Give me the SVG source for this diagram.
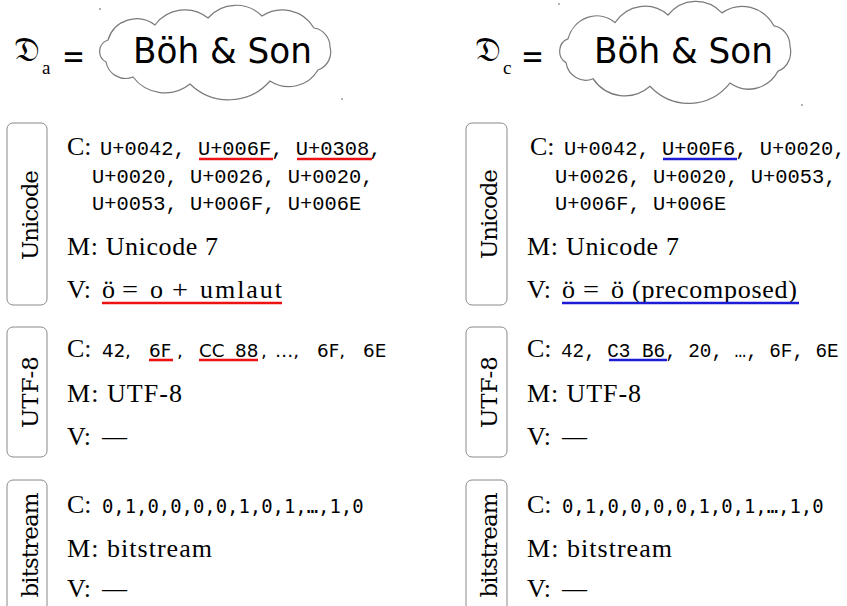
<svg xmlns="http://www.w3.org/2000/svg" width="847" height="606" viewBox="0 0 847 606">
  <style>
    .serif { font-family: "Liberation Serif", "DejaVu Serif", serif; font-size: 26px; fill: #000; }
    .frak { font-family: "DejaVu Serif", "DejaVu Sans", "Noto Sans", serif; font-size: 35px; fill: #000; }
    .sub { font-family: "Liberation Serif", serif; font-size: 19px; fill: #000; }
    .eq { font-family: "DejaVu Sans", sans-serif; font-size: 34px; fill: #000; }
    .hand { font-family: "DejaVu Sans", sans-serif; font-size: 36px; fill: #000; }
    .mono { font-family: "Liberation Mono", monospace; font-size: 20.4px; fill: #000; }
    .mono2 { font-family: "Liberation Mono", monospace; font-size: 19.3px; fill: #000; }
    .bits { font-family: "DejaVu Sans Mono", monospace; font-size: 18.9px; fill: #000; }
    .hex { font-family: "DejaVu Sans", sans-serif; font-size: 18.3px; fill: #000; }
    .label { font-family: "DejaVu Serif", "Liberation Serif", serif; font-size: 23px; fill: #000; text-anchor: middle; }
    .box { fill: #fff; stroke: #8a8a8a; stroke-width: 1; }
    .cloud { fill: #fff; stroke: #7a7a7a; stroke-width: 1.2; }
    .red { stroke: #ee1111; stroke-width: 2.6; }
    .blue { stroke: #1c1cd6; stroke-width: 2.6; }
    .dot { fill: #555; }
  </style>
  <defs>
    <path id="cloud-shape" d="M106,62 A12,12 0 0 1 108,40 A30,30 0 0 1 155,25 A37,37 0 0 1 208,18 A37,37 0 0 1 262,16 A37,37 0 0 1 314,28 A19,19 0 0 1 330,47 A19,19 0 0 1 318,70 A34,34 0 0 1 270,81 A55,55 0 0 1 190,84 A40,40 0 0 1 133,77 A20,20 0 0 1 106,62 Z"/>
  </defs>

  <!-- header, left: D_a = cloud -->
  <g id="title-a">
    <text class="frak" x="14" y="61">𝔇</text>
    <text class="sub" x="42" y="74">a</text>
    <text class="eq" x="62" y="68" textLength="23" lengthAdjust="spacingAndGlyphs">=</text>
    <use href="#cloud-shape" class="cloud"/>
    <text class="hand" x="133" y="63" textLength="179" lengthAdjust="spacingAndGlyphs">Böh &amp; Son</text>
    <circle class="dot" cx="100" cy="9" r="0.8"/>
    <circle class="dot" cx="342" cy="99" r="0.8"/>
  </g>

  <!-- header, right: D_c = cloud -->
  <g id="title-c">
    <text class="frak" x="475" y="61">𝔇</text>
    <text class="sub" x="503" y="74">c</text>
    <text class="eq" x="521" y="68" textLength="23" lengthAdjust="spacingAndGlyphs">=</text>
    <use href="#cloud-shape" class="cloud" transform="translate(680,55) scale(1,1.08) translate(-220,-55)"/>
    <text class="hand" x="594" y="63" textLength="179" lengthAdjust="spacingAndGlyphs">Böh &amp; Son</text>
    <circle class="dot" cx="559" cy="4" r="0.8"/>
    <circle class="dot" cx="802" cy="105" r="0.8"/>
  </g>

  <!-- left column -->
  <g id="unicode-a">
    <rect class="box" x="7" y="123" width="40" height="182" rx="6"/>
    <g transform="translate(38,215) rotate(-90)"><text class="label" x="0" y="0" textLength="90">Unicode</text></g>
    <text class="serif" x="67" y="155">C:</text>
    <text class="mono" x="100" y="155">U+0042, U+006F, U+0308,</text>
    <text class="mono" x="92" y="183">U+0020, U+0026, U+0020,</text>
    <text class="mono" x="92" y="210">U+0053, U+006F, U+006E</text>
    <text class="serif" x="67" y="255" textLength="151">M: Unicode 7</text>
    <text class="serif" x="67" y="298">V:</text>
    <text class="serif" x="102" y="298">ö</text>
    <text class="serif" x="122" y="298" textLength="16" lengthAdjust="spacingAndGlyphs">=</text>
    <text class="serif" x="150" y="298">o</text>
    <text class="serif" x="172" y="298" textLength="16" lengthAdjust="spacingAndGlyphs">+</text>
    <text class="serif" x="200" y="298" textLength="82">umlaut</text>
  </g>

  <g id="utf8-a">
    <rect class="box" x="7" y="327" width="40" height="130" rx="6"/>
    <g transform="translate(38,392) rotate(-90)"><text class="label" x="0" y="0" textLength="72">UTF-8</text></g>
    <text class="serif" x="67" y="357">C:</text>
    <text class="hex" x="102" y="357">42</text>
    <text class="hex" x="125" y="357">,</text>
    <text class="hex" x="149" y="357">6F</text>
    <text class="hex" x="177" y="357">,</text>
    <text class="hex" x="199" y="357">CC</text>
    <text class="hex" x="235" y="357">88</text>
    <text class="hex" x="261" y="357">,</text>
    <text class="hex" x="275" y="357">…,</text>
    <text class="hex" x="317" y="357">6F,</text>
    <text class="hex" x="363" y="357">6E</text>
    <text class="serif" x="67" y="402" textLength="115">M: UTF-8</text>
    <text class="serif" x="67" y="445">V:</text>
    <text class="serif" x="102" y="445" textLength="25" lengthAdjust="spacingAndGlyphs">—</text>
  </g>

  <g id="bitstream-a">
    <rect class="box" x="7" y="480" width="40" height="140" rx="6"/>
    <g transform="translate(38,545) rotate(-90)"><text class="label" x="0" y="0" textLength="105">bitstream</text></g>
    <text class="serif" x="67" y="513">C:</text>
    <text class="bits" x="102" y="513">0,1,0,0,0,0,1,0,1,…,1,0</text>
    <text class="serif" x="67" y="557" textLength="145">M: bitstream</text>
    <text class="serif" x="67" y="597">V:</text>
    <text class="serif" x="102" y="597" textLength="25" lengthAdjust="spacingAndGlyphs">—</text>
  </g>

  <!-- right column -->
  <g id="unicode-c">
    <rect class="box" x="466" y="123" width="41" height="182" rx="6"/>
    <g transform="translate(497,214) rotate(-90)"><text class="label" x="0" y="0" textLength="90">Unicode</text></g>
    <text class="serif" x="530" y="155">C:</text>
    <text class="mono" x="564" y="155">U+0042, U+00F6, U+0020,</text>
    <text class="mono" x="555" y="183">U+0026, U+0020, U+0053,</text>
    <text class="mono" x="555" y="210">U+006F, U+006E</text>
    <text class="serif" x="527" y="255" textLength="152">M: Unicode 7</text>
    <text class="serif" x="527" y="298">V:</text>
    <text class="serif" x="562" y="298">ö</text>
    <text class="serif" x="583" y="298" textLength="16" lengthAdjust="spacingAndGlyphs">=</text>
    <text class="serif" x="611" y="298">ö</text>
    <text class="serif" x="632" y="298" textLength="165">(precomposed)</text>
  </g>

  <g id="utf8-c">
    <rect class="box" x="466" y="327" width="41" height="130" rx="6"/>
    <g transform="translate(497,392) rotate(-90)"><text class="label" x="0" y="0" textLength="72">UTF-8</text></g>
    <text class="serif" x="527" y="357">C:</text>
    <text class="mono2" x="561" y="357">42, C3 B6, 20, …, 6F, 6E</text>
    <text class="serif" x="527" y="402" textLength="114">M: UTF-8</text>
    <text class="serif" x="527" y="445">V:</text>
    <text class="serif" x="562" y="445" textLength="25" lengthAdjust="spacingAndGlyphs">—</text>
  </g>

  <g id="bitstream-c">
    <rect class="box" x="466" y="480" width="41" height="140" rx="6"/>
    <g transform="translate(497,545) rotate(-90)"><text class="label" x="0" y="0" textLength="105">bitstream</text></g>
    <text class="serif" x="527" y="513">C:</text>
    <text class="bits" x="562" y="513">0,1,0,0,0,0,1,0,1,…,1,0</text>
    <text class="serif" x="527" y="557" textLength="145">M: bitstream</text>
    <text class="serif" x="527" y="597">V:</text>
    <text class="serif" x="562" y="597" textLength="25" lengthAdjust="spacingAndGlyphs">—</text>
  </g>

  <!-- highlight underlines -->
  <g id="connectors">
    <line class="red" x1="199" y1="159" x2="273" y2="159"/>
    <line class="red" x1="297" y1="159" x2="372" y2="159"/>
    <line class="red" x1="102" y1="303" x2="282" y2="303"/>
    <line class="red" x1="149" y1="360" x2="173" y2="360"/>
    <line class="red" x1="199" y1="360" x2="258" y2="360"/>
    <line class="blue" x1="663" y1="159" x2="737" y2="159"/>
    <line class="blue" x1="562" y1="303" x2="799" y2="303"/>
    <line class="blue" x1="609" y1="360" x2="667" y2="360"/>
  </g>
</svg>
